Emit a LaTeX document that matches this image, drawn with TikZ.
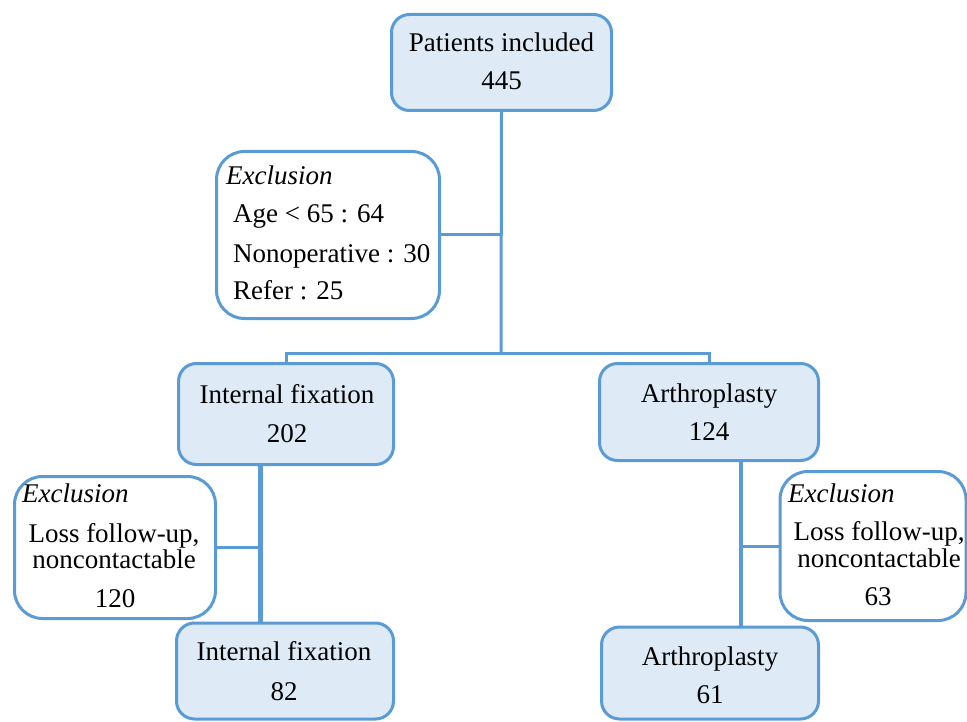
\documentclass[tikz,border=0pt]{standalone}
\usepackage{fontspec}
\setmainfont{Liberation Serif}
\definecolor{bord}{RGB}{91,155,213}
\definecolor{fillb}{RGB}{222,235,247}
\begin{document}
\begin{tikzpicture}[x=1pt,y=-1pt,
  box/.style={draw=bord, line width=3pt, inner sep=0pt, shape=rectangle},
  bluebox/.style={box, fill=fillb, rounded corners=18pt},
  exclbox/.style={box, fill=white, rounded corners=28pt},
  conn/.style={draw=bord, line width=3pt},
  txt/.style={anchor=base, inner sep=0pt, font=\fontsize{27}{31}\selectfont},
  ltxt/.style={txt, anchor=base west}]
\useasboundingbox (0,0) rectangle (967,722);
\clip (0,0) rectangle (967,722);
% boxes
\node[bluebox, minimum width=220pt, minimum height=96pt] (top) at (501.5,62.5) {};
\node[exclbox, minimum width=223pt, minimum height=167pt] (ex1) at (328,235) {};
\node[bluebox, minimum width=215pt, minimum height=101pt] (if1) at (286,414) {};
\node[bluebox, minimum width=219pt, minimum height=97pt] (ar1) at (709,412) {};
\node[exclbox, minimum width=201pt, minimum height=142pt] (exl) at (115,547.5) {};
\node[exclbox, minimum width=186pt, minimum height=149pt] (exr) at (873,546) {};
\node[bluebox, minimum width=217pt, minimum height=96pt] (if2) at (285,671) {};
\node[bluebox, minimum width=217pt, minimum height=92pt] (ar2) at (710,673) {};
% coordinates
\coordinate (split) at (501,353);
\coordinate (lv) at (260,0);
\coordinate (rv) at (741,0);
% connectors
\draw[conn] (top.south) -- (split);
\draw[conn] (if1.north) |- (split) -| (ar1.north);
\draw[conn] (ex1.east) -- (ex1.east -| split);
\draw[conn, line width=5pt] (if1.south -| lv) -- (if2.north -| lv);
\draw[conn] (exl.east) -- (exl.east -| lv);
\draw[conn, line width=4pt] (ar1.south -| rv) -- (ar2.north -| rv);
\draw[conn] (exr.west) -- (exr.west -| rv);
% texts
\node[txt] (t1a) at (501.5,52) {Patients included};
\node[txt] (t1b) at (501.5,90) {445};
\node[ltxt] (e1a) at (226,185) {\itshape Exclusion};
\node[ltxt] (e1b) at (233,223) {Age < 65 : 64};
\node[ltxt] (e1c) at (233,262) {Nonoperative : 30};
\node[ltxt] (e1d) at (233,300) {Refer : 25};
\node[txt] (i1a) at (287,403) {Internal fixation};
\node[txt] (i1b) at (287,442) {202};
\node[txt] (a1a) at (709,402) {Arthroplasty};
\node[txt] (a1b) at (709,440) {124};
\node[ltxt] (ela) at (22,502) {\itshape Exclusion};
\node[txt] (elb) at (114,542) {Loss follow-up,};
\node[txt] (elc) at (114,568) {noncontactable};
\node[txt] (eld) at (115,607) {120};
\node[ltxt] (era) at (788,502) {\itshape Exclusion};
\node[txt] (erb) at (879,540) {Loss follow-up,};
\node[txt] (erc) at (879,567) {noncontactable};
\node[txt] (erd) at (878,605) {63};
\node[txt] (i2a) at (284,660) {Internal fixation};
\node[txt] (i2b) at (284,700) {82};
\node[txt] (a2a) at (710,665) {Arthroplasty};
\node[txt] (a2b) at (710,703) {61};
\end{tikzpicture}
\end{document}
